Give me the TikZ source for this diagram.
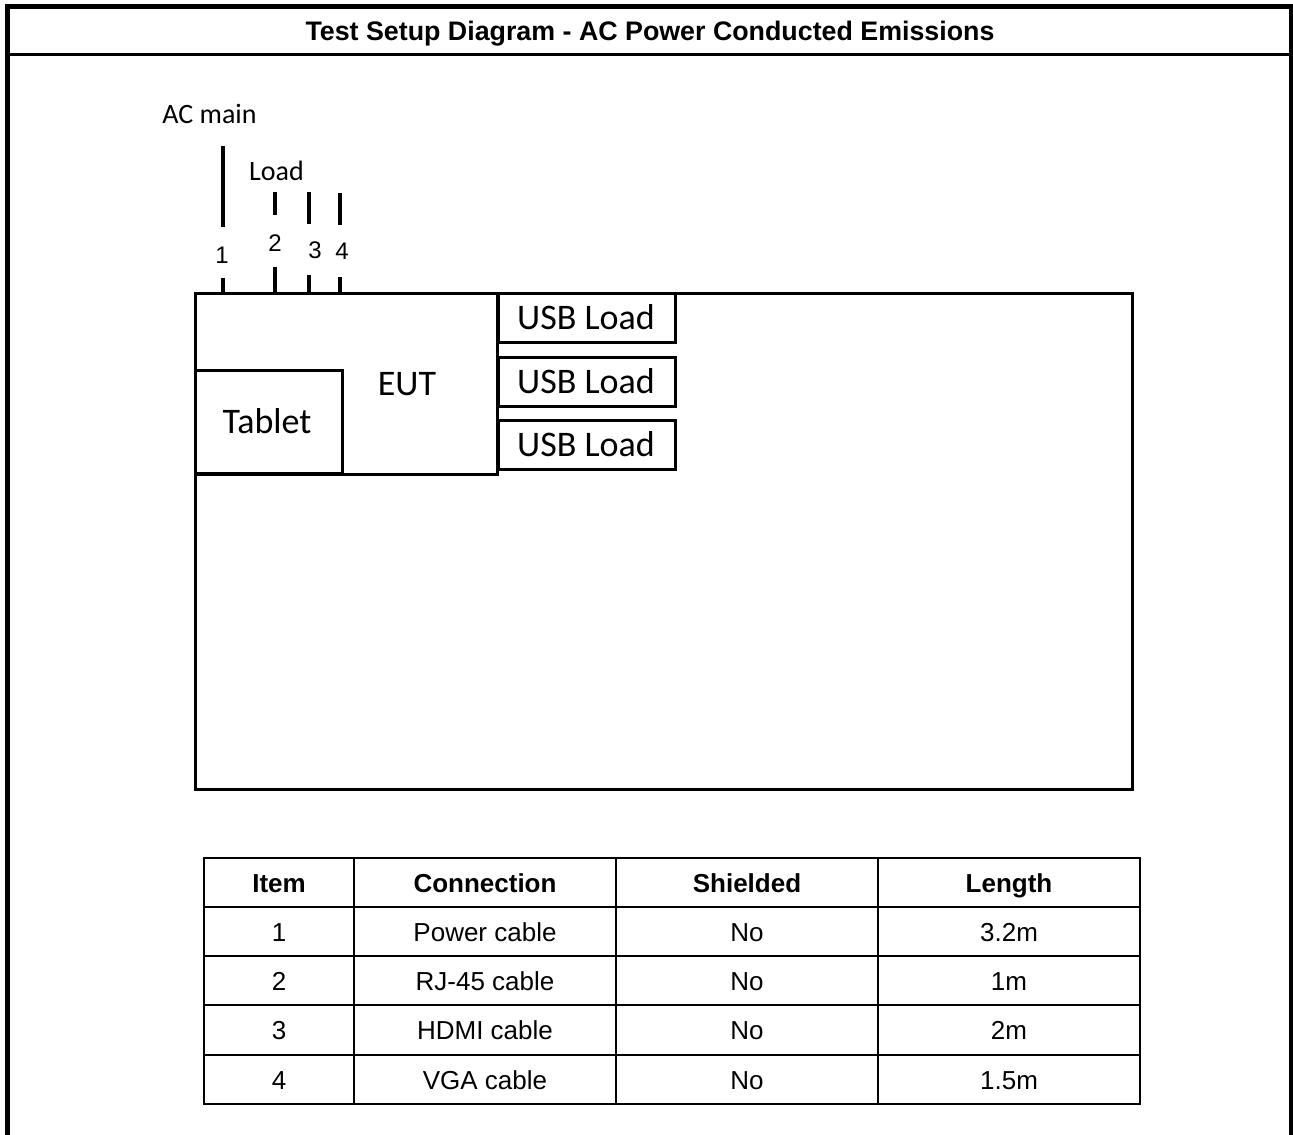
\documentclass[tikz,border=0pt]{standalone}
\usepackage{fontspec}
\setmainfont{Liberation Sans}
\newfontfamily\labelfont{Carlito}
\usepackage{tikz}
\usetikzlibrary{positioning}

\begin{document}
\begin{tikzpicture}[x=1pt,y=-1pt,
  frame/.style={line width=5pt,line join=miter},
  box/.style={line width=3pt,line join=miter},
  cable/.style={line width=4pt},
  grid/.style={line width=2pt},
  lbl/.style={inner sep=0pt,text height=23pt,text depth=0pt,font=\labelfont\fontsize{36}{40}\selectfont},
  note/.style={inner sep=0pt,text height=18pt,text depth=0pt,font=\labelfont\fontsize{28}{32}\selectfont},
  num/.style={inner sep=0pt,text height=17pt,text depth=0pt,font=\fontsize{24}{28}\selectfont},
  cell/.style={inner sep=0pt,text height=19pt,text depth=0pt,font=\fontsize{26}{30}\selectfont},
  head/.style={cell,font=\bfseries\fontsize{26}{30}\selectfont}]
\useasboundingbox (0,0) rectangle (1293,1135);
% outer frame and title bar
\draw[frame] (7.5,1135) |- (1291,6.5) -- (1291,1135);
\draw[line width=2.5pt] (7.5,54.5) -- (1291,54.5);
\node[head,font=\bfseries\fontsize{26.8}{30}\selectfont] (title) at (650,31)
  {Test Setup Diagram - AC Power Conducted Emissions};
% bench, EUT, tablet and USB loads
\draw[box] (195,293) rectangle (1132,789);
\draw[box] (195,293) rectangle (497,474);
\draw[box] (195,370) rectangle (342,473);
\node[lbl] (eut) at (407,384) {EUT};
\node[lbl] (tablet) at (267,422) {Tablet};
\foreach \u/\ya/\yb in {1/293/342,2/357/406,3/420/469}{
  \draw[box] (498,\ya) rectangle (675,\yb);
  \node[lbl] (usb\u) at (586,{(\ya+\yb)/2}) {USB Load};
}
% cables: upper part, label, stub down to the bench
\node[note] (acmain) at (209.5,114) {AC main};
\node[note] (load) at (276.5,171) {Load};
\foreach \i/\x/\ya/\yb/\yc/\lx/\ly in {1/223/146/227/278/222/255,2/275/192/215/267/275/243,
                                     3/309/192/224/275/315/250,4/340/193/225/277/342/251}{
  \coordinate (top\i) at (\x,\ya);
  \coordinate (end\i) at (\x,\yb);
  \coordinate (stub\i) at (\x,\yc);
  \coordinate (plug\i) at (\x,293);
  \draw[cable] (top\i) -- (end\i);
  \draw[cable] (stub\i) -- (plug\i);
  \node[num] (n\i) at (\lx,\ly) {\i};
}
% table: 5 rows x 4 columns
\foreach \x in {204,354,616,878,1140}{ \draw[grid] (\x,857.5) -- (\x,1104); }
\foreach \r in {0,...,5}{ \draw[grid] (203,857.5+49.3*\r) -- (1141,857.5+49.3*\r); }
\node[head] (h1) at (279,882.5) {Item};
\node[head] (h2) at (485,882.5) {Connection};
\node[head] (h3) at (747,882.5) {Shielded};
\node[head] (h4) at (1009,882.5) {Length};
\foreach \r/\con/\len in {1/Power cable/3.2m,2/RJ-45 cable/1m,3/HDMI cable/2m,4/VGA cable/1.5m}{
  \node[cell] (item\r) at (279,882.5+49.3*\r) {\r};
  \node[cell] (con\r) at (485,882.5+49.3*\r) {\con};
  \node[cell] (sh\r) at (747,882.5+49.3*\r) {No};
  \node[cell] (len\r) at (1009,882.5+49.3*\r) {\len};
}
\end{tikzpicture}
\end{document}
